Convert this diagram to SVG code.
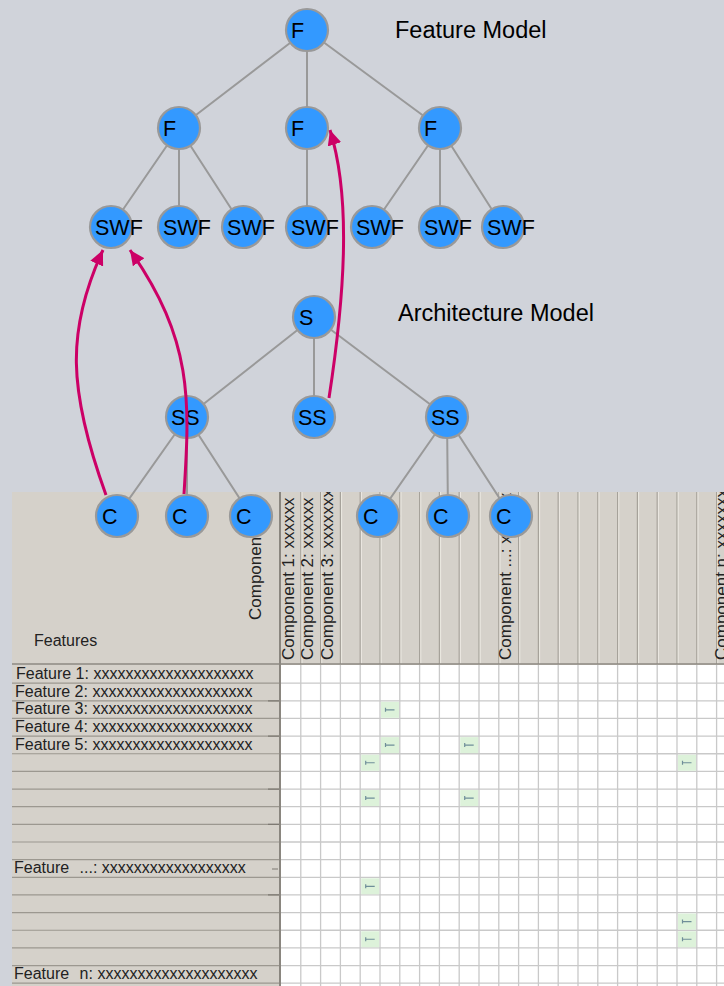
<svg xmlns="http://www.w3.org/2000/svg" xmlns:xlink="http://www.w3.org/1999/xlink" width="724" height="986" viewBox="0 0 724 986">
  <style>
    .edge { stroke: #999999; stroke-width: 2; fill: none; }
    .node circle { fill: #3399FF; stroke: #999999; stroke-width: 2.2; }
    .node text { font-family: "Liberation Sans", Arial, sans-serif; font-size: 21.5px; fill: #000000; }
    .title { font-family: "Liberation Sans", Arial, sans-serif; font-size: 23.5px; fill: #000000; }
    .trace { stroke: #CC0066; stroke-width: 3; fill: none; marker-end: url(#arrow); }
    .cell { font-family: "Liberation Sans", Arial, sans-serif; font-size: 16px; fill: #222222; }
    .colhead { font-family: "Liberation Sans", Arial, sans-serif; font-size: 17px; fill: #222222; }
    .gridline { stroke: #C9C9C9; stroke-width: 1.3; fill: none; }
    .rowline { stroke: #9C9890; stroke-width: 1.2; fill: none; }
    .colsep { stroke: #A6A29A; stroke-width: 1.2; fill: none; }
    .colhi { stroke: #ECE9E2; stroke-width: 1; fill: none; }
  </style>
  <defs>
    <marker id="arrow" markerUnits="userSpaceOnUse" markerWidth="16" markerHeight="14" refX="15" refY="7" orient="auto">
      <path d="M0,0 L15,7 L0,14 Z" fill="#CC0066"/>
    </marker>
    <g id="mark">
      <rect x="0" y="0" width="18" height="16" fill="#DDF2DA"/>
      <path d="M4.5 6v4M4.5 8h9" stroke="#6F8E99" stroke-width="1.2" fill="none"/>
    </g>
    <clipPath id="headClip">
      <rect x="12" y="492" width="712" height="172"/>
    </clipPath>
  </defs>

  <!-- page background -->
  <rect x="0" y="0" width="724" height="986" fill="#D0D3DA"/>

  <!-- traceability matrix -->
  <g id="matrix">
    <rect x="12" y="492" width="712" height="494" fill="#D5D1CA"/>
    <rect x="281" y="665" width="443" height="321" fill="#FFFFFF"/>
    <!-- cell grid -->
    <path class="gridline" d="M300.8 665V986M320.6 665V986M340.4 665V986M360.2 665V986M380 665V986M399.8 665V986M419.6 665V986M439.4 665V986M459.2 665V986M479 665V986M498.8 665V986M518.6 665V986M538.4 665V986M558.2 665V986M578 665V986M597.8 665V986M617.6 665V986M637.4 665V986M657.2 665V986M677 665V986M696.8 665V986M716.6 665V986
      M281 683.15H724M281 700.8H724M281 718.45H724M281 736.1H724M281 753.75H724M281 771.4H724M281 789.05H724M281 806.7H724M281 824.35H724M281 842H724M281 859.65H724M281 877.3H724M281 894.95H724M281 912.6H724M281 930.25H724M281 947.9H724M281 965.55H724M281 983.2H724"/>
    <!-- column header separators -->
    <path class="colsep" d="M300.8 492V664M320.6 492V664M340.4 492V664M360.2 492V664M380 492V664M399.8 492V664M419.6 492V664M439.4 492V664M459.2 492V664M479 492V664M498.8 492V664M518.6 492V664M538.4 492V664M558.2 492V664M578 492V664M597.8 492V664M617.6 492V664M637.4 492V664M657.2 492V664M677 492V664M696.8 492V664M716.6 492V664"/>
    <path class="colhi" d="M302 492V664M321.8 492V664M341.6 492V664M361.4 492V664M381.2 492V664M401 492V664M420.8 492V664M440.6 492V664M460.4 492V664M480.2 492V664M500 492V664M519.8 492V664M539.6 492V664M559.4 492V664M579.2 492V664M599 492V664M618.8 492V664M638.6 492V664M658.4 492V664M678.2 492V664M698 492V664M717.8 492V664"/>
    <!-- feature row separators -->
    <path class="rowline" d="M12 683.15H280M12 700.8H280M12 718.45H280M12 736.1H280M12 753.75H280M12 771.4H280M12 789.05H280M12 806.7H280M12 824.35H280M12 842H280M12 859.65H280M12 877.3H280M12 894.95H280M12 912.6H280M12 930.25H280M12 947.9H280M12 965.55H280M12 983.2H280"/>
    <path d="M268 700.8H280M268 736.1H280M268 789.05H280M268 824.35H280M268 894.95H280M272 869H278" stroke="#7E7A73" stroke-width="1.2" fill="none"/>
    <!-- header bottom and label column border -->
    <path d="M12 664H724" stroke="#8D8982" stroke-width="1.5"/>
    <path d="M280 492V986" stroke="#8A867F" stroke-width="2"/>

    <!-- header texts -->
    <text class="cell" x="34" y="646">Features</text>
    <g clip-path="url(#headClip)">
      <text class="colhead" transform="translate(260.5,620) rotate(-90)">Component</text>
      <text class="colhead" transform="translate(293.5,660) rotate(-90)">Component 1: xxxxxx</text>
      <text class="colhead" transform="translate(313.3,660) rotate(-90)">Component 2: xxxxxx</text>
      <text class="colhead" transform="translate(333.1,660) rotate(-90)">Component 3: xxxxxxx</text>
      <text class="colhead" transform="translate(510.8,660) rotate(-90)">Component ...: xxxxxx</text>
      <text class="colhead" transform="translate(727,660) rotate(-90)">Component n: xxxxxxxx</text>
    </g>

    <!-- feature labels -->
    <text class="cell" x="16" y="678.9">Feature 1: xxxxxxxxxxxxxxxxxxxx</text>
    <text class="cell" x="15" y="696.6">Feature 2: xxxxxxxxxxxxxxxxxxxx</text>
    <text class="cell" x="15" y="714.3">Feature 3: xxxxxxxxxxxxxxxxxxxx</text>
    <text class="cell" x="15" y="731.9">Feature 4: xxxxxxxxxxxxxxxxxxxx</text>
    <text class="cell" x="15" y="749.6">Feature 5: xxxxxxxxxxxxxxxxxxxx</text>
    <text class="cell" x="14" y="873.1">Feature <tspan dx="6">...: xxxxxxxxxxxxxxxxxx</tspan></text>
    <text class="cell" x="14" y="979">Feature <tspan dx="6">n: xxxxxxxxxxxxxxxxxxxx</tspan></text>

    <!-- mapped cells -->
    <use xlink:href="#mark" x="381" y="701.8"/>
    <use xlink:href="#mark" x="381" y="737.1"/>
    <use xlink:href="#mark" x="460.2" y="737.1"/>
    <use xlink:href="#mark" x="361.2" y="754.75"/>
    <use xlink:href="#mark" x="678" y="754.75"/>
    <use xlink:href="#mark" x="361.2" y="790.05"/>
    <use xlink:href="#mark" x="460.2" y="790.05"/>
    <use xlink:href="#mark" x="361.2" y="878.3"/>
    <use xlink:href="#mark" x="678" y="913.6"/>
    <use xlink:href="#mark" x="361.2" y="931.25"/>
    <use xlink:href="#mark" x="678" y="931.25"/>
  </g>

  <!-- tree edges -->
  <g id="connectors">
    <path class="edge" d="M307 30L179 128M307 30L307 128M307 30L440 128"/>
    <path class="edge" d="M179 128L111 227M179 128L179 227M179 128L243 227"/>
    <path class="edge" d="M307 128L307 227"/>
    <path class="edge" d="M440 128L372 227M440 128L440 227M440 128L503 227"/>
    <path class="edge" d="M314 317L187 417M314 317L314 417M314 317L447 417"/>
    <path class="edge" d="M187 417L117 516M187 417L187 516M187 417L251 516"/>
    <path class="edge" d="M447 417L378 516M447 417L448 516M447 417L511 516"/>
  </g>

  <!-- feature model -->
  <g id="f-root" class="node"><circle cx="307" cy="30" r="21"/><text x="291" y="38">F</text></g>
  <g id="f-1" class="node"><circle cx="179" cy="128" r="21"/><text x="163" y="136">F</text></g>
  <g id="f-2" class="node"><circle cx="307" cy="128" r="21"/><text x="291" y="136">F</text></g>
  <g id="f-3" class="node"><circle cx="440" cy="128" r="21"/><text x="424" y="136">F</text></g>
  <g id="swf-1" class="node"><circle cx="111" cy="227" r="21"/><text x="95" y="235">SWF</text></g>
  <g id="swf-2" class="node"><circle cx="179" cy="227" r="21"/><text x="163" y="235">SWF</text></g>
  <g id="swf-3" class="node"><circle cx="243" cy="227" r="21"/><text x="227" y="235">SWF</text></g>
  <g id="swf-4" class="node"><circle cx="307" cy="227" r="21"/><text x="291" y="235">SWF</text></g>
  <g id="swf-5" class="node"><circle cx="372" cy="227" r="21"/><text x="356" y="235">SWF</text></g>
  <g id="swf-6" class="node"><circle cx="440" cy="227" r="21"/><text x="424" y="235">SWF</text></g>
  <g id="swf-7" class="node"><circle cx="503" cy="227" r="21"/><text x="487" y="235">SWF</text></g>

  <!-- architecture model -->
  <g id="s-root" class="node"><circle cx="314" cy="317" r="21"/><text x="299" y="325">S</text></g>
  <g id="ss-1" class="node"><circle cx="187" cy="417" r="21"/><text x="171" y="425">SS</text></g>
  <g id="ss-2" class="node"><circle cx="314" cy="417" r="21"/><text x="298" y="425">SS</text></g>
  <g id="ss-3" class="node"><circle cx="447" cy="417" r="21"/><text x="431" y="425">SS</text></g>
  <g id="c-1" class="node"><circle cx="117" cy="516" r="21"/><text x="102" y="524">C</text></g>
  <g id="c-2" class="node"><circle cx="187" cy="516" r="21"/><text x="172" y="524">C</text></g>
  <g id="c-3" class="node"><circle cx="251" cy="516" r="21"/><text x="236" y="524">C</text></g>
  <g id="c-4" class="node"><circle cx="378" cy="516" r="21"/><text x="363" y="524">C</text></g>
  <g id="c-5" class="node"><circle cx="448" cy="516" r="21"/><text x="433" y="524">C</text></g>
  <g id="c-6" class="node"><circle cx="511" cy="516" r="21"/><text x="496" y="524">C</text></g>

  <!-- trace links from architecture to features -->
  <g id="trace-links">
    <path class="trace" d="M106 495C68 390 66 330 103 250"/>
    <path class="trace" d="M184 494C190 400 193 340 130 250"/>
    <path class="trace" d="M329 398C344 300 352 200 330 130"/>
  </g>

  <text class="title" x="395" y="38">Feature Model</text>
  <text class="title" x="398" y="321">Architecture Model</text>
</svg>
